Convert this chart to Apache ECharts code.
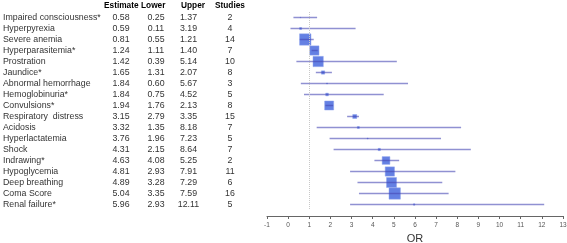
<!DOCTYPE html>
<html lang="en">
<head>
    <meta charset="UTF-8">
    <script src="https://cdn.jsdelivr.net/npm/echarts@6/dist/echarts.min.js"></script>
    <title>Forest plot</title>
    <style>
        html, body { margin: 0; padding: 0; background: #fff; }
        #chart { width: 567px; height: 243px; }
    </style>
</head>
<body>
    <div id="chart"></div>
    <script>
        // 表格数据
        const names = ['Impaired consciousness*', 'Hyperpyrexia', 'Severe anemia', 'Hyperparasitemia*', 'Prostration',
            'Jaundice*', 'Abnormal hemorrhage', 'Hemoglobinuria*', 'Convulsions*', 'Respiratory  distress', 'Acidosis',
            'Hyperlactatemia', 'Shock', 'Indrawing*', 'Hypoglycemia', 'Deep breathing', 'Coma Score', 'Renal failure*']
        const estimate = [0.58, 0.59, 0.81, 1.24, 1.42, 1.65, 1.84, 1.84, 1.94, 3.15, 3.32, 3.76, 4.31, 4.63, 4.81, 4.89, 5.04, 5.96]
        const lower = [0.25, 0.11, 0.55, 1.11, 0.39, 1.31, 0.60, 0.75, 1.76, 2.79, 1.35, 1.96, 2.15, 4.08, 2.93, 3.28, 3.35, 2.93]
        const upper = [1.37, 3.19, 1.21, 1.40, 5.14, 2.07, 5.67, 4.52, 2.13, 3.35, 8.18, 7.23, 8.64, 5.25, 7.91, 7.29, 7.59, 12.11]
        const studies = [2, 4, 14, 7, 10, 8, 3, 5, 8, 15, 7, 5, 7, 2, 11, 6, 16, 5]
        // 权重（方块大小）
        const weight = [0.02, 0.4, 13.0, 8.6, 10.6, 1.1, 0.1, 0.7, 8.1, 1.6, 0.4, 0.1, 0.5, 6.0, 8.6, 10.0, 13.0, 0.2]

        const font = 'Arial, "Liberation Sans", sans-serif'
        const fs = 8.8
        // 列宽
        const colW = { n: 101, e: 34, l: 36, u: 29, s: 54 }
        const headW = { n: 101, e: 37, l: 40, u: 34, s: 40 }

        let myChart = echarts.init(document.getElementById('chart'))

        // 左侧表格用 y 轴标签的富文本画
        const rich = {}
        Object.keys(colW).forEach(k => {
            rich[k] = { width: colW[k], align: k === 'n' ? 'left' : 'center', fontSize: fs, color: '#333', fontFamily: font }
        })
        const headRich = {}
        Object.keys(headW).forEach(k => {
            headRich[k] = { width: headW[k], align: 'left', fontSize: 8.3, fontWeight: 'bold', color: '#222', fontFamily: font }
        })

        let option = {
            animation: false,
            grid: { left: 267, right: 4, top: 12, bottom: 33, outerBoundsMode: 'none', containLabel: false },
            xAxis: {
                type: 'value',
                min: -1,
                max: 13,
                interval: 1,
                offset: 6,
                splitLine: { show: false },
                axisLine: { show: true, lineStyle: { color: '#666', width: 1 } },
                axisTick: { show: true, length: 3, lineStyle: { color: '#666' } },
                axisLabel: { fontSize: 6.5, color: '#555', margin: 6, fontFamily: font },
                name: 'OR',
                nameLocation: 'middle',
                nameGap: 17,
                nameTextStyle: { fontSize: 11, color: '#333', fontFamily: font }
            },
            yAxis: {
                type: 'category',
                inverse: true,
                data: names,
                axisLine: { show: false },
                axisTick: { show: false },
                splitLine: { show: false },
                axisLabel: {
                    interval: 0,
                    margin: 10,
                    formatter: function (v, i) {
                        return '{n|' + v + '}{e|' + estimate[i].toFixed(2) + '}{l|' + lower[i].toFixed(2) +
                            '}{u|' + upper[i].toFixed(2) + '}{s|' + studies[i] + '}'
                    },
                    rich: rich
                }
            },
            graphic: [{
                type: 'text',
                left: 3,
                top: 2,
                style: {
                    text: '{n|}{e|Estimate}{l|Lower}{u|Upper}{s|Studies}',
                    rich: headRich
                }
            }],
            series: [
                {
                    // 方块
                    type: 'scatter',
                    symbol: 'rect',
                    data: estimate.map((v, i) => [v, i]),
                    symbolSize: (val, p) => Math.max(Math.sqrt(weight[p.dataIndex] * 10), 0.6),
                    itemStyle: { color: '#3d60dc', borderColor: '#8ea2ec', borderWidth: 0.6 },
                    markLine: {
                        silent: true,
                        symbol: 'none',
                        label: { show: false },
                        lineStyle: { color: '#c8c8c8', type: 'dotted', width: 1 },
                        data: [{ xAxis: 1 }]
                    },
                    z: 2
                },
                {
                    // 置信区间
                    type: 'custom',
                    data: lower.map((v, i) => [v, upper[i], i]),
                    renderItem: function (params, api) {
                        const a = api.coord([api.value(0), api.value(2)])
                        const b = api.coord([api.value(1), api.value(2)])
                        return {
                            type: 'line',
                            shape: { x1: a[0], y1: a[1], x2: b[0], y2: b[1] },
                            style: { stroke: 'rgba(70,72,180,0.6)', lineWidth: 1.5 }
                        }
                    },
                    z: 3
                }
            ]
        }
        myChart.setOption(option)
    </script>
</body>
</html>
